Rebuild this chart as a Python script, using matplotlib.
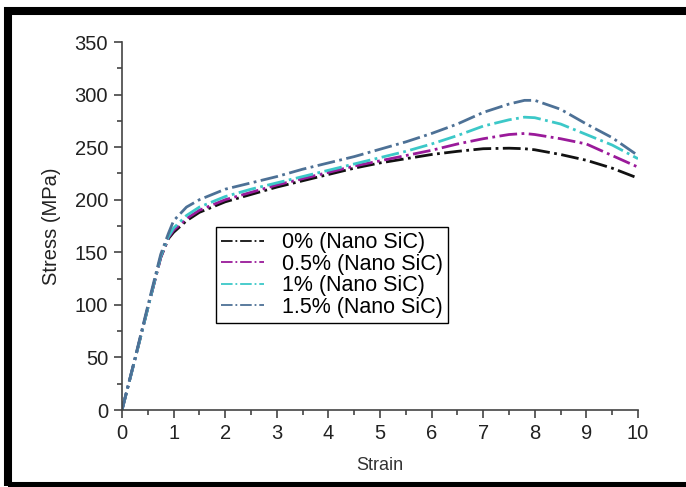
import matplotlib.pyplot as plt
import matplotlib.patches as patches
from matplotlib.ticker import MultipleLocator

plt.rcParams['font.family'] = ['Liberation Sans', 'DejaVu Sans']

# strain values (%) and stress (MPa)
strain = [0, 0.25, 0.5, 0.75, 0.9, 1.0, 1.25, 1.5, 2, 2.5, 3, 3.5, 4, 4.5, 5, 5.5, 6,
          6.5, 7, 7.5, 7.8, 8, 8.5, 9, 9.5, 10]
s0 = [0, 48, 97, 145, 163, 169, 180, 188, 198, 205, 212, 218, 224, 230, 235, 239, 243,
      246, 248.5, 249, 248.5, 247.5, 243, 237.5, 230, 220.5]
s05 = [0, 48, 97, 145, 164, 171, 182, 190, 200, 207, 214, 220, 226, 232, 237, 242, 247,
       253, 258, 262, 263, 262, 258, 253, 242, 231]
s1 = [0, 48, 97, 146, 165, 173, 185, 193, 203, 210, 216, 222, 228, 234, 240, 246, 253,
      261, 270, 276, 278.5, 278, 272, 262, 252, 239]
s15 = [0, 49, 99, 148, 168, 180, 193, 200, 210, 216, 222, 229, 235, 241, 248, 255, 263,
       272, 283, 291, 294.5, 294.5, 286, 272, 259, 242]

labels = ['0% (Nano SiC)', '0.5% (Nano SiC)', '1% (Nano SiC)', '1.5% (Nano SiC)']
colors = ['#111111', '#9a1a9a', '#3cc8c8', '#4d7196']

fig = plt.figure(figsize=(6.86, 4.87), dpi=100)
fig.patch.set_facecolor('white')

# thick black frame round the picture
frame = patches.Rectangle((8 / 686, 1 / 487), 1.0, 1 - 12 / 487, transform=fig.transFigure,
                          fill=False, edgecolor='black', linewidth=5.8, clip_on=False)
fig.patches.append(frame)

ax = fig.add_axes([122 / 686, 77 / 487, 516 / 686, 368 / 487])

for y, lab, c in zip([s0, s05, s1, s15], labels, colors):
    ax.plot(strain, y, linestyle='-.', color=c, linewidth=2, label=lab)

ax.set_xlim(0, 10)
ax.set_ylim(0, 350)
ax.xaxis.set_major_locator(MultipleLocator(1))
ax.xaxis.set_minor_locator(MultipleLocator(0.5))
ax.yaxis.set_major_locator(MultipleLocator(50))
ax.yaxis.set_minor_locator(MultipleLocator(25))

for side in ['top', 'right']:
    ax.spines[side].set_visible(False)
for side in ['left', 'bottom']:
    ax.spines[side].set_color('#444444')
    ax.spines[side].set_linewidth(1.2)

ax.tick_params(which='major', direction='out', length=6, width=1.2, colors='#444444',
               labelsize=14.5, labelcolor='#222222', pad=4)
ax.tick_params(which='minor', direction='out', length=3.5, width=1.2, colors='#444444')

ax.set_xlabel('Strain', fontsize=13, color='#333333', labelpad=10)
ax.set_ylabel('Stress (MPa)', fontsize=14.5, color='#222222', labelpad=10)

leg = ax.legend(loc='lower left', bbox_to_anchor=(0.182, 0.236), fontsize=15.5,
                handlelength=2.0, handletextpad=0.8, borderpad=0.25, labelspacing=0.02,
                borderaxespad=0, fancybox=False, framealpha=1, edgecolor='black')
leg.get_frame().set_linewidth(1.0)
for h in leg.get_lines():
    h.set_linewidth(1.3)

fig.savefig('out.png', dpi=100)
